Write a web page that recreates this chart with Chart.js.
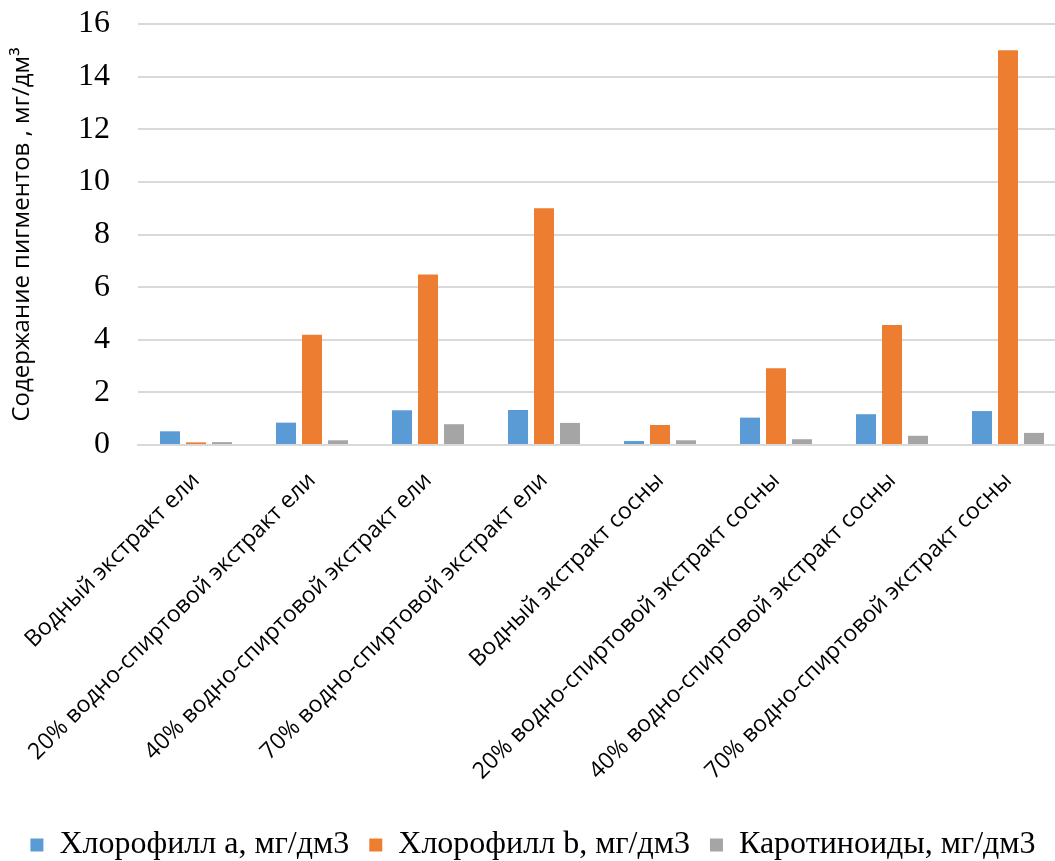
<!DOCTYPE html>
<html>
<head>
<meta charset="utf-8">
<script src="https://cdn.jsdelivr.net/npm/chart.js@4"></script>
<style>
  html, body { margin: 0; padding: 0; background: #fff; overflow: hidden; }
  #wrap { width: 1066px; height: 861px; }
</style>
</head>
<body>
<div id="wrap"><canvas id="chart"></canvas></div>
<script>
const categories = [
  'Водный экстракт ели',
  '20% водно-спиртовой экстракт ели',
  '40% водно-спиртовой экстракт ели',
  '70% водно-спиртовой экстракт ели',
  'Водный экстракт сосны',
  '20% водно-спиртовой экстракт сосны',
  '40% водно-спиртовой экстракт сосны',
  '70% водно-спиртовой экстракт сосны'
];
const chlorophyllA = [0.52, 0.85, 1.32, 1.33, 0.15, 1.04, 1.17, 1.29];
const chlorophyllB = [0.10, 4.19, 6.48, 9.00, 0.76, 2.92, 4.56, 15.0];
const carotenoids = [0.11, 0.18, 0.79, 0.84, 0.18, 0.22, 0.35, 0.46];
const seriesNames = ['Хлорофилл a, мг/дм3', 'Хлорофилл b, мг/дм3', 'Каротиноиды, мг/дм3'];
const yTicks = [0, 2, 4, 6, 8, 10, 12, 14, 16];

const ctx = document.getElementById('chart').getContext('2d');

new Chart(ctx, {
  type: 'bar',
  data: {
    labels: categories,
    datasets: [
      { label: seriesNames[0], data: chlorophyllA, backgroundColor: '#5B9BD5' },
      { label: seriesNames[1], data: chlorophyllB, backgroundColor: '#ED7D31' },
      { label: seriesNames[2], data: carotenoids, backgroundColor: '#A5A5A5' }
    ]
  },
  options: {
    responsive: true,
    maintainAspectRatio: false,
    animation: false,
    datasets: {
      bar: { categoryPercentage: 0.672, barPercentage: 0.77 }
    },
    // negative bottom padding pushes the legend down to the canvas edge
    layout: { padding: { top: 24, left: 0, right: 0, bottom: -10 } },
    plugins: {
      tooltip: { enabled: false },
      legend: {
        position: 'bottom',
        labels: {
          boxWidth: 13,
          boxHeight: 13,
          padding: 20,
          color: '#000',
          font: { family: '"Liberation Serif", serif', size: 32 }
        }
      }
    },
    scales: {
      x: {
        grid: { display: false },
        border: { color: '#d9d9d9', width: 2 },
        ticks: {
          autoSkip: false,
          minRotation: 45,
          maxRotation: 45,
          color: '#000',
          padding: 14,
          font: { family: '"Open Sans", sans-serif', size: 23 }
        },
        afterFit: s => { s.height = 364; }
      },
      y: {
        min: 0,
        max: 16,
        afterBuildTicks: s => { s.ticks = yTicks.map(v => ({ value: v })); },
        grid: { color: '#d9d9d9', lineWidth: 2, drawTicks: false },
        border: { display: false },
        ticks: {
          color: '#000',
          padding: 28,
          font: { family: '"Liberation Serif", serif', size: 32 }
        },
        title: {
          display: true,
          text: 'Содержание пигментов , мг/дм³',
          color: '#000',
          padding: { top: 8, bottom: 4 },
          font: { family: '"Open Sans", sans-serif', size: 24 }
        },
        afterFit: s => {
          s.width = 138;
          s.paddingTop = 0;
          s.paddingBottom = 0;
        }
      }
    }
  }
});
</script>
</body>
</html>
